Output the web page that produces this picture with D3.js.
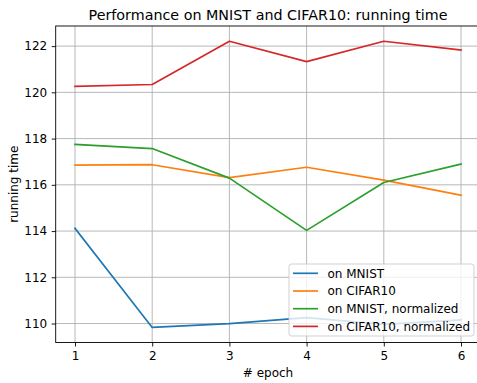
<!DOCTYPE html>
<html lang="en">
<head>
<meta charset="utf-8">
<title>Performance on MNIST and CIFAR10: running time</title>
<script src="https://cdn.jsdelivr.net/npm/d3@7"></script>
<style>
  html, body { margin: 0; padding: 0; background: white; }
  svg { font-family: "DejaVu Sans", sans-serif; }
</style>
</head>
<body>
<script>
// data
var epochs = [1, 2, 3, 4, 5, 6];
var mnist = [114.12, 109.83, 110.0, 110.26, 109.96, 110.16];
var cifar = [116.85, 116.87, 116.31, 116.76, 116.2, 115.55];
var mnistNorm = [117.75, 117.57, 116.29, 114.03, 116.1, 116.9];
var cifarNorm = [120.26, 120.34, 122.21, 121.33, 122.21, 121.83];
var seriesNames = ["on MNIST", "on CIFAR10", "on MNIST, normalized", "on CIFAR10, normalized"];
var colors = ["#1f77b4", "#ff7f0e", "#2ca02c", "#d62728"];
var yTicks = [110, 112, 114, 116, 118, 120, 122];

var w = 477, h = 383;
// plot area (note: "top" is reserved on window, so use other names)
var pLeft = 55.7, pRight = 480.3, pTop = 26, pBottom = 342.5;
var fs = 12;

var svg = d3.select("body").append("svg")
    .attr("width", w)
    .attr("height", h);

var x = d3.scaleLinear().domain([0.75, 6.25]).range([pLeft, pRight]);
var y = d3.scaleLinear().domain([109.18, 122.87]).range([pBottom, pTop]);

// grid
svg.append("g").selectAll("line")
    .data(epochs).enter().append("line")
    .attr("x1", d => x(d)).attr("x2", d => x(d))
    .attr("y1", pTop).attr("y2", pBottom)
    .attr("stroke", "#b0b0b0").attr("stroke-width", 0.9);
svg.append("g").selectAll("line")
    .data(yTicks).enter().append("line")
    .attr("x1", pLeft).attr("x2", pRight)
    .attr("y1", d => y(d)).attr("y2", d => y(d))
    .attr("stroke", "#b0b0b0").attr("stroke-width", 0.9);

// lines
var allSeries = [mnist, cifar, mnistNorm, cifarNorm];
var line = d3.line().x((d, i) => x(epochs[i])).y(d => y(d));
allSeries.forEach(function(s, k) {
  svg.append("path")
    .attr("d", line(s))
    .attr("fill", "none")
    .attr("stroke", colors[k])
    .attr("stroke-width", 1.7)
    .attr("stroke-linejoin", "round")
    .attr("stroke-linecap", "square");
});

// axes
var xAxis = svg.append("g")
    .attr("transform", "translate(0," + pBottom + ")")
    .call(d3.axisBottom(x).tickValues(epochs).tickFormat(d3.format("d")).tickSizeOuter(0).tickSize(4).tickPadding(4.5));
var yAxis = svg.append("g")
    .attr("transform", "translate(" + pLeft + ",0)")
    .call(d3.axisLeft(y).tickValues(yTicks).tickSizeOuter(0).tickSize(4).tickPadding(4.5));
[xAxis, yAxis].forEach(function(a) {
  a.select(".domain").remove();
  a.selectAll("line").attr("stroke", "#000").attr("stroke-width", 0.9);
  a.selectAll("text").attr("font-size", fs + "px").attr("fill", "#000")
    .attr("font-family", "DejaVu Sans");
});

// spines
svg.append("rect")
    .attr("x", pLeft).attr("y", pTop)
    .attr("width", pRight - pLeft).attr("height", pBottom - pTop)
    .attr("fill", "none").attr("stroke", "#000").attr("stroke-width", 0.9);

// title and labels
svg.append("text")
    .attr("x", (pLeft + pRight) / 2).attr("y", 20)
    .attr("text-anchor", "middle").attr("font-size", "14.3px")
    .text("Performance on MNIST and CIFAR10: running time");
svg.append("text")
    .attr("x", (pLeft + pRight) / 2).attr("y", 377)
    .attr("text-anchor", "middle").attr("font-size", fs + "px")
    .text("# epoch");
svg.append("text")
    .attr("transform", "translate(17.5," + ((pTop + pBottom) / 2) + ") rotate(-90)")
    .attr("text-anchor", "middle").attr("font-size", fs + "px")
    .text("running time");

// legend
var lg = svg.append("g").attr("transform", "translate(289,264)");
lg.append("rect")
    .attr("width", 185).attr("height", 72)
    .attr("rx", 2.5)
    .attr("fill", "white").attr("fill-opacity", 0.8)
    .attr("stroke", "#cccccc").attr("stroke-width", 0.9);
seriesNames.forEach(function(n, k) {
  var yy = 9.3 + k * 17.7;
  lg.append("line")
    .attr("x1", 4).attr("x2", 29)
    .attr("y1", yy).attr("y2", yy)
    .attr("stroke", colors[k]).attr("stroke-width", 1.7);
  lg.append("text")
    .attr("x", 38.5).attr("y", yy + 4.3)
    .attr("font-size", fs + "px")
    .text(n);
});
</script>
</body>
</html>
